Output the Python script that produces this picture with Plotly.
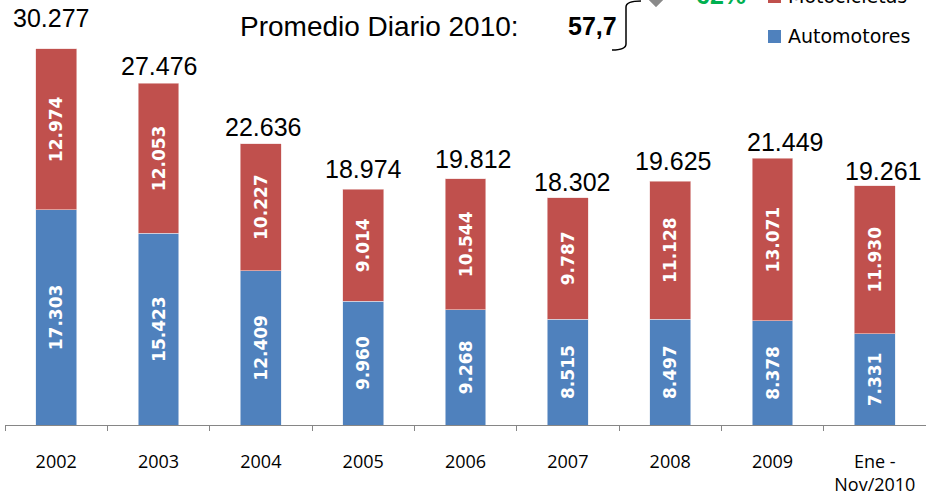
import plotly.graph_objects as go

years = ["2002", "2003", "2004", "2005", "2006", "2007", "2008", "2009", "Ene -<br>Nov/2010"]
automotores = [17303, 15423, 12409, 9960, 9268, 8515, 8497, 8378, 7331]
motocicletas = [12974, 12053, 10227, 9014, 10544, 9787, 11128, 13071, 11930]
totales = [30277, 27476, 22636, 18974, 19812, 18302, 19625, 21449, 19261]
promedio_diario = 57.7
variacion = "62%"

# plot area in pixels: left 5, width 921, top 0, height 425
W, H = 926, 496
L, T, PW, PH = 5, 0, 921, 425


def px(x):
    return (x - L) / PW


def py(y):
    return (T + PH - y) / PH


red = "#C0504D"
blue = "#4F81BD"

fig = go.Figure()
fig.add_trace(go.Bar(x=years, y=automotores, name="Automotores", marker_color=blue,
                     marker_line=dict(color="#dfe7f2", width=0.6),
                     texttemplate="%{y:,.0f}", textposition="inside", textangle=-90,
                     insidetextanchor="middle",
                     textfont=dict(family="DejaVu Sans", size=17, color="white", weight="bold")))
fig.add_trace(go.Bar(x=years, y=motocicletas, name="Motocicletas", marker_color=red,
                     marker_line=dict(color="#f0d6d5", width=0.6),
                     texttemplate="%{y:,.0f}", textposition="inside", textangle=-90,
                     insidetextanchor="middle",
                     textfont=dict(family="DejaVu Sans", size=17, color="white", weight="bold")))

# totals above the bars
xshift = [-5, 0, 2, 0, 7, 4, 3, 12, 8]
yshift = [31, 17, 17, 20, 20, 16, 20, 16, 15]
annotations = []
for i, t in enumerate(totales):
    annotations.append(dict(x=i, y=t, xref="x", yref="y", text=f"{t:,}".replace(",", "."),
                            showarrow=False, xshift=xshift[i], yshift=yshift[i],
                            yanchor="middle",
                            font=dict(family="Liberation Sans, Arial", size=25, color="black")))

annotations += [
    dict(x=px(521), y=py(27), xref="paper", yref="paper", xanchor="right", yanchor="middle",
         text="Promedio Diario 2010:", showarrow=False,
         font=dict(family="Liberation Sans, Arial", size=28, color="black")),
    dict(x=px(566), y=py(26), xref="paper", yref="paper", xanchor="left", yanchor="middle",
         text="<b>" + f"{promedio_diario:.1f}".replace(".", ",") + "</b>", showarrow=False,
         font=dict(family="Liberation Sans, Arial", size=25, color="black")),
    dict(x=px(721), y=py(-5), xref="paper", yref="paper", xanchor="center", yanchor="middle",
         text="<b>" + variacion + "</b>", showarrow=False,
         font=dict(family="Liberation Sans, Arial", size=25, color="#00B050")),
    dict(x=px(786), y=py(-4), xref="paper", yref="paper", xanchor="left", yanchor="middle",
         text="Motocicletas", showarrow=False,
         font=dict(family="DejaVu Sans", size=19, color="black")),
    dict(x=px(786), y=py(36), xref="paper", yref="paper", xanchor="left", yanchor="middle",
         text="Automotores", showarrow=False,
         font=dict(family="DejaVu Sans", size=19, color="black")),
]

shapes = [
    # brace
    dict(type="path", xref="paper", yref="paper",
         path=f"M {px(612)},{py(50)} Q {px(626)},{py(50)} {px(626)},{py(44)} "
              f"L {px(626)},{py(7)} Q {px(626)},{py(1)} {px(641)},{py(1)}",
         line=dict(color="black", width=1.5)),
    # diamond tip
    dict(type="path", xref="paper", yref="paper",
         path=f"M {px(645)},{py(-4)} L {px(656)},{py(7)} L {px(667)},{py(-4)} Z",
         fillcolor="#8a8a8a", line=dict(color="#b0b0b0", width=1)),
    # legend keys
    dict(type="rect", xref="paper", yref="paper", x0=px(768), x1=px(781), y0=py(3), y1=py(-10),
         fillcolor=red, line=dict(width=0)),
    dict(type="rect", xref="paper", yref="paper", x0=px(768), x1=px(781), y0=py(43), y1=py(30),
         fillcolor=blue, line=dict(width=0)),
]

fig.update_layout(
    width=W, height=H,
    barmode="stack", bargap=0.6,
    separators=",.",
    showlegend=False,
    plot_bgcolor="white", paper_bgcolor="white",
    margin=dict(l=L, r=W - L - PW, t=T, b=H - T - PH, autoexpand=False),
    annotations=annotations,
    shapes=shapes,
)
fig.update_xaxes(range=[-0.5, 8.5], showline=True, linecolor="#868686", linewidth=1,
                 ticks="outside", tickson="boundaries", ticklen=5, tickcolor="#868686",
                 ticklabelstandoff=20, automargin=False,
                 tickfont=dict(family="Open Sans", size=18, color="black"))
fig.update_yaxes(range=[0, 34190], visible=False, showgrid=False, automargin=False)

fig.write_html("out.html", config={"displayModeBar": False},
               post_script="document.body.style.margin='0px';")
